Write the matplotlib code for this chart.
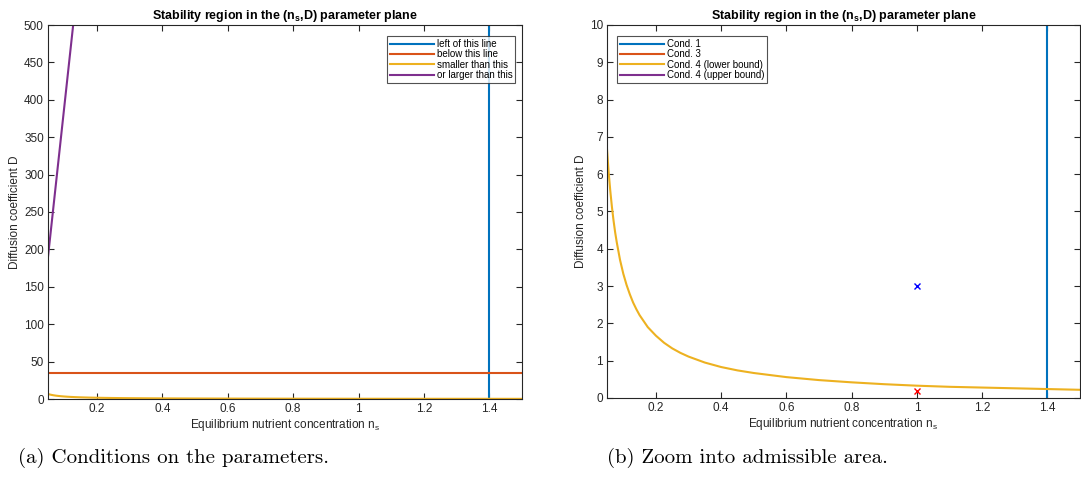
import matplotlib.pyplot as plt

plt.rcParams["font.family"] = ["Liberation Sans", "DejaVu Sans"]
plt.rcParams["mathtext.fontset"] = "custom"
plt.rcParams["mathtext.rm"] = "Liberation Sans"
plt.rcParams["mathtext.bf"] = "Liberation Sans:bold"

# Data
cond1_ns = [1.4, 1.4]
cond1_D = [0, 500]
cond3_ns = [0.05, 1.5]
cond3_D = [35, 35]
low_ns = [0.05, 0.055, 0.06, 0.065, 0.07, 0.075, 0.08, 0.09, 0.10, 0.11,
          0.12, 0.13, 0.14, 0.15, 0.175, 0.20, 0.225, 0.25, 0.275, 0.30,
          0.35, 0.40, 0.45, 0.50, 0.60, 0.70, 0.80, 0.90, 1.00, 1.10, 1.20,
          1.30, 1.40, 1.50]
low_D = [6.67, 6.06, 5.56, 5.13, 4.76, 4.44, 4.17, 3.70, 3.33, 3.03,
         2.78, 2.56, 2.38, 2.22, 1.90, 1.67, 1.48, 1.33, 1.21, 1.11,
         0.95, 0.83, 0.74, 0.67, 0.56, 0.48, 0.42, 0.37, 0.33, 0.30, 0.28,
         0.26, 0.24, 0.22]
up_ns = [0.05, 0.127]
up_D = [190, 500]
point_ok = (1.0, 3.0)
point_bad = (1.0, 0.18)

colors = ["#0072BD", "#D95319", "#EDB120", "#7E2F8E"]
gray = "#262626"

fig = plt.figure(figsize=(10.81, 5.01), dpi=100)
W, H = 1081, 501
ax1 = fig.add_axes([48 / W, 1 - 399 / H, 474 / W, 374 / H])
ax2 = fig.add_axes([607 / W, 1 - 398 / H, 473 / W, 373 / H])

title = r"Stability region in the (n$_\mathbf{s}$,D) parameter plane"
xlab = r"Equilibrium nutrient concentration n$_\mathrm{s}$"


def draw(ax, labels, ylim, yticks, legend_anchor):
    ax.plot(cond1_ns, cond1_D, color=colors[0], lw=1.5, label=labels[0])
    ax.plot(cond3_ns, cond3_D, color=colors[1], lw=1.5, label=labels[1])
    ax.plot(low_ns, low_D, color=colors[2], lw=1.5, label=labels[2])
    ax.plot(up_ns, up_D, color=colors[3], lw=1.5, label=labels[3])
    ax.set_xlim(0.05, 1.5)
    ax.set_ylim(*ylim)
    ax.set_xticks([0.2, 0.4, 0.6, 0.8, 1.0, 1.2, 1.4])
    ax.set_xticklabels(["0.2", "0.4", "0.6", "0.8", "1", "1.2", "1.4"])
    ax.set_yticks(yticks)
    ax.tick_params(direction="in", length=4, width=0.8, top=True, right=True,
                   labelsize=8.5, colors=gray, pad=3)
    for s in ax.spines.values():
        s.set_color(gray)
        s.set_linewidth(0.8)
    ax.set_title(title, fontsize=9, fontweight="bold", pad=4)
    ax.set_xlabel(xlab, fontsize=8.5, color=gray, labelpad=1)
    ax.set_ylabel("Diffusion coefficient D", fontsize=8.5, color=gray,
                  labelpad=2)
    leg = ax.legend(loc="upper left", bbox_to_anchor=legend_anchor,
                    bbox_transform=fig.transFigure, fontsize=7,
                    frameon=True, fancybox=False, borderpad=0.3,
                    labelspacing=0.05, handlelength=4.5, handletextpad=0.3,
                    borderaxespad=0)
    leg.get_frame().set_edgecolor(gray)
    leg.get_frame().set_linewidth(0.8)


draw(ax1, ["left of this line", "below this line", "smaller than this",
           "or larger than this"], (0, 500), range(0, 501, 50),
     (387 / W, 1 - 36 / H))
draw(ax2, ["Cond. 1", "Cond. 3", "Cond. 4 (lower bound)",
           "Cond. 4 (upper bound)"], (0, 10), range(0, 11),
     (617 / W, 1 - 36 / H))

ax2.plot(*point_ok, "x", color="blue", ms=5, mew=1)
ax2.plot(*point_bad, "x", color="red", ms=5, mew=1)

fig.text(18 / W, 1 - 458 / H, "(a) Conditions on the parameters.",
         family="cmr10", fontsize=15, va="center")
fig.text(607 / W, 1 - 458 / H, "(b) Zoom into admissible area.",
         family="cmr10", fontsize=15, va="center")

fig.savefig("out.png", dpi=100)
